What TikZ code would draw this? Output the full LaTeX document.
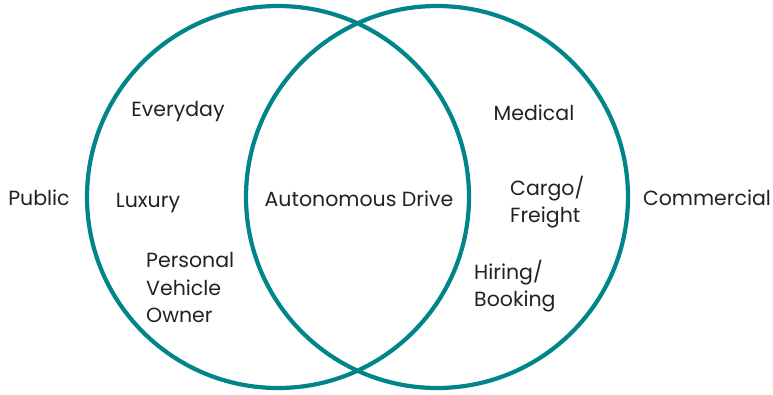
\documentclass[tikz,border=0pt]{standalone}
\usepackage{fontspec}
\setmainfont{Poppins}
\definecolor{teal}{HTML}{00858A}
\definecolor{ink}{HTML}{222222}
\begin{document}
\begin{tikzpicture}[x=1pt,y=-1pt,
  ring/.style={draw=teal,line width=4.2pt},
  lbl/.style={text=ink,font=\fontsize{20.5}{27.5}\selectfont,inner sep=0pt,anchor=center},
  blk/.style={lbl,align=left}]
\useasboundingbox (0,0) rectangle (773,394);
\node[ring,circle,minimum size=382pt,inner sep=0pt] (L) at (278,197) {};
\node[ring,circle,minimum size=382pt,inner sep=0pt] (R) at (437,197) {};
\node[lbl] (pub) at (39,198) {Public};
\node[lbl] (eve) at (178,112) {Everyday};
\node[lbl] (lux) at (148,203) {Luxury};
\node[blk,anchor=west] (pvo) at (146,288) {Personal\\Vehicle\\Owner};
\node[lbl] (ad) at (359,199) {Autonomous Drive};
\node[lbl] (med) at (534,113) {Medical};
\node[blk,anchor=west] (cf) at (510,202) {Cargo/\\Freight};
\node[blk,anchor=west] (hb) at (474,286) {Hiring/\\Booking};
\node[lbl] (com) at (707,198) {Commercial};
\end{tikzpicture}
\end{document}
